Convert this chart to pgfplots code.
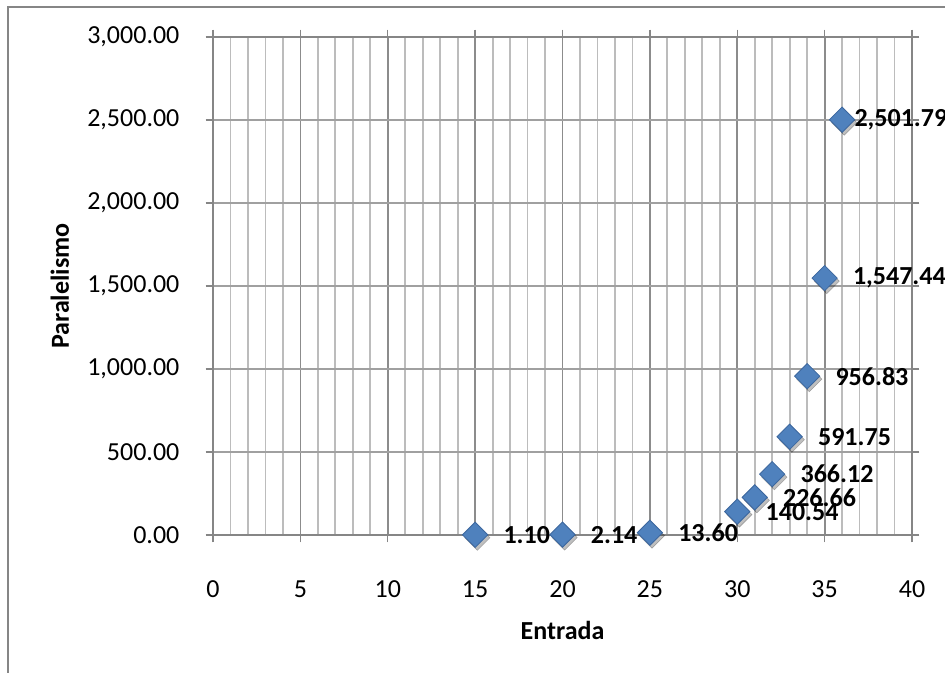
\documentclass[border=0pt]{standalone}
\usepackage{fontspec}
\setmainfont{Carlito}
\usepackage{pgfplots}
\usepackage{pgfplotstable}
\pgfplotsset{compat=1.18}

\definecolor{markblue}{RGB}{79,129,189}
\definecolor{markedge}{RGB}{60,103,158}
\definecolor{axisgray}{RGB}{134,134,134}
\definecolor{majgrid}{RGB}{140,140,140}
\definecolor{mingrid}{RGB}{188,188,188}
\definecolor{hgrid}{RGB}{160,160,160}

% x, y, printed label, horizontal label offset (pt)
\pgfplotstableread{
x  y        label     dx
15 1.10     1.10      21
20 2.14     2.14      21
25 13.60    13.60     21
30 140.54   140.54    21
31 226.66   226.66    21
32 366.12   366.12    21
33 591.75   591.75    21
34 956.83   956.83    21
35 1547.44  1,547.44  21
36 2501.79  2,501.79  9
}\datatable

\begin{document}
\begin{tikzpicture}[x=1pt,y=1pt]
\useasboundingbox (0,0) rectangle (708.75,504.75);
% chart area frame
\draw[axisgray, line width=1.1pt] (6,0) -- (6,499.5) -- (720,499.5);
\begin{axis}[
  at={(159.75pt,103.5pt)}, anchor=origin,
  scale only axis, width=524.25pt, height=373.5pt,
  xmin=0, xmax=40, ymin=0, ymax=3000,
  xtick={0,5,...,40}, ytick={0,500,...,3000},
  minor x tick num=4,
  tick align=outside, major tick length=5.5pt, minor tick length=0pt,
  tick style={axisgray, line width=1.1pt},
  axis line style={axisgray, line width=1.1pt},
  xmajorgrids, xminorgrids, ymajorgrids,
  major x grid style={majgrid, line width=1.3pt},
  minor x grid style={mingrid, line width=1.35pt},
  major y grid style={hgrid, line width=1.3pt},
  font=\fontsize{19.5}{23}\selectfont,
  /pgf/number format/assume math mode=true,
  yticklabel style={
    /pgf/number format/fixed, /pgf/number format/fixed zerofill,
    /pgf/number format/precision=2, /pgf/number format/1000 sep={,},
    anchor=east, inner sep=0pt, xshift=-19.5pt},
  xticklabel style={anchor=center, inner sep=0pt, yshift=-35.25pt},
  scaled y ticks=false,
  xlabel={\bfseries Entrada},
  ylabel={\bfseries Paralelismo},
  every axis x label/.style={at={(rel axis cs:0.5,-0.191)}, anchor=center},
  every axis y label/.style={at={(rel axis cs:-0.219,0.5)}, rotate=90, anchor=center},
  clip=false,
]
% soft shadow under the markers
\addplot[only marks, mark=square*, mark size=6.7pt,
  mark options={xshift=1.6pt, yshift=-2.2pt, rotate=45, fill=black, draw=none, opacity=0.25}]
  table[x=x, y=y]{\datatable};
% data points with value labels
\addplot[only marks, mark=square*, mark size=6.7pt,
  mark options={rotate=45, fill=markblue, draw=markedge, line width=0.6pt},
  point meta=explicit symbolic,
  visualization depends on={\thisrow{dx} \as \labdx},
  nodes near coords,
  nodes near coords style={anchor=west, inner sep=0pt, xshift=\labdx pt,
    font=\fontsize{19.5}{23}\selectfont\bfseries, text=black},
] table[x=x, y=y, meta=label]{\datatable};
\end{axis}
\end{tikzpicture}
\end{document}
